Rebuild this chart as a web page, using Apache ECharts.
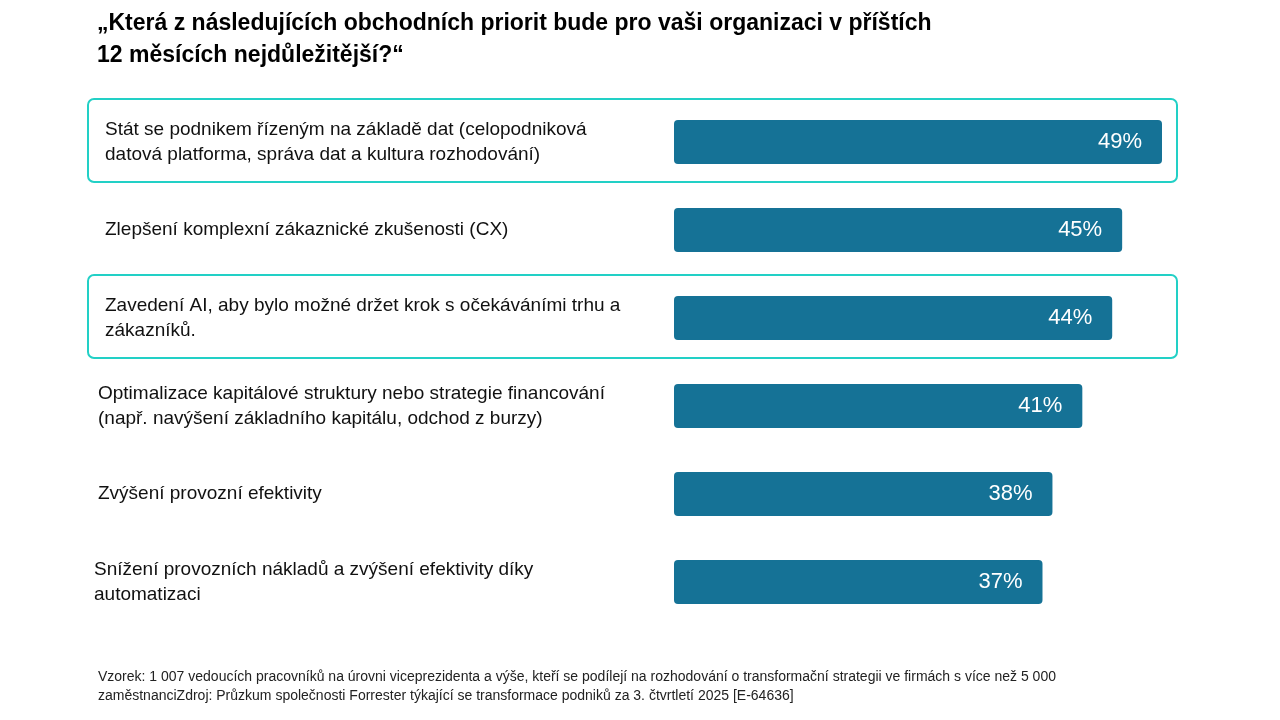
<!DOCTYPE html>
<html><head><meta charset="utf-8">
<script src="https://cdn.jsdelivr.net/npm/echarts@6/dist/echarts.min.js"></script>
<style>html,body{margin:0;background:#fff}#c{width:1280px;height:720px}</style>
</head><body><div id="c"></div>
<script>
const categories = [
  'Stát se podnikem řízeným na základě dat (celopodniková\ndatová platforma, správa dat a kultura rozhodování)',
  'Zlepšení komplexní zákaznické zkušenosti (CX)',
  'Zavedení AI, aby bylo možné držet krok s očekáváními trhu a\nzákazníků.',
  'Optimalizace kapitálové struktury nebo strategie financování\n(např. navýšení základního kapitálu, odchod z burzy)',
  'Zvýšení provozní efektivity',
  'Snížení provozních nákladů a zvýšení efektivity díky\nautomatizaci'
];
const values = [49, 45, 44, 41, 38, 37];
const highlighted = [0, 2];
const labelX = [105, 105, 105, 98, 98, 94];

const chart = echarts.init(document.getElementById('c'));
const font = 'Liberation Sans, Arial, sans-serif';
const graphic = [
  { type: 'text', left: 97, top: 8, style: { text: '„Která z následujících obchodních priorit bude pro vaši organizaci v příštích\n12 měsících nejdůležitější?“', font: 'bold 23px ' + font, fill: '#000', lineHeight: 32 } },
  { type: 'text', left: 98, top: 668, style: { text: 'Vzorek: 1 007 vedoucích pracovníků na úrovni viceprezidenta a výše, kteří se podílejí na rozhodování o transformační strategii ve firmách s více než 5 000\nzaměstnanciZdroj: Průzkum společnosti Forrester týkající se transformace podniků za 3. čtvrtletí 2025 [E-64636]', font: '14px ' + font, fill: '#222', lineHeight: 19 } }
];
highlighted.forEach(i => {
  graphic.push({ type: 'rect', shape: { x: 88, y: 99 + i * 88, width: 1089, height: 83, r: 6 }, style: { fill: 'none', stroke: '#22d0c6', lineWidth: 2 } });
});
categories.forEach((c, i) => {
  graphic.push({ type: 'text', x: labelX[i], y: 142 + i * 88, style: { text: c, font: '19px ' + font, fill: '#111', lineHeight: 25, verticalAlign: 'middle' } });
});
chart.setOption({
  animation: false,
  grid: { left: 674, width: 488, top: 98, height: 528 },
  xAxis: { type: 'value', min: 0, max: 49, show: false },
  yAxis: { type: 'category', inverse: true, data: categories, show: false },
  series: [{
    type: 'bar', data: values, barWidth: 44,
    itemStyle: { color: '#157296', borderRadius: 4 },
    label: { show: true, position: 'insideRight', distance: 20, formatter: '{c}%', color: '#fff', fontSize: 22, fontFamily: font }
  }],
  graphic: graphic
});
</script></body></html>
